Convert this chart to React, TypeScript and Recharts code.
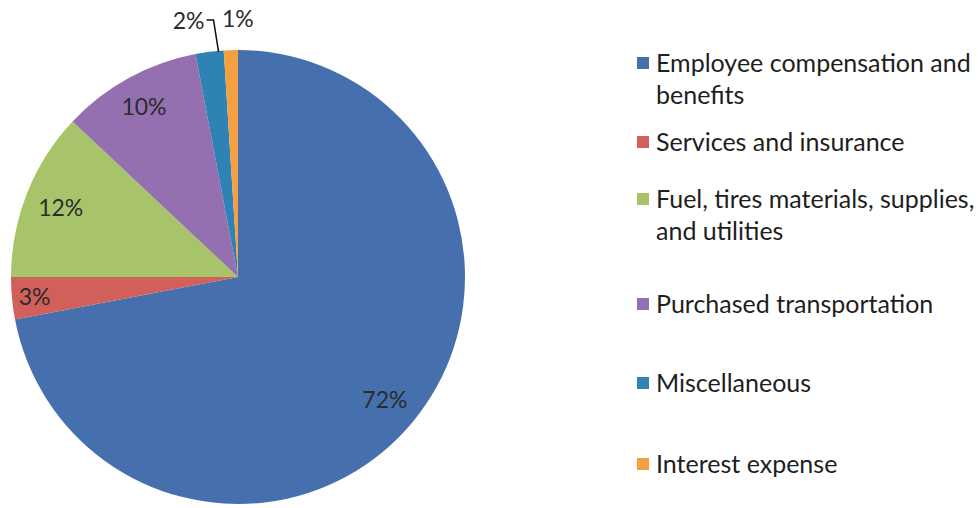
import { Cell, Legend, Pie, PieChart } from "recharts";

const categories = [
  "Employee compensation and benefits",
  "Services and insurance",
  "Fuel, tires materials, supplies, and utilities",
  "Purchased transportation",
  "Miscellaneous",
  "Interest expense",
];
const shares = [72, 3, 12, 10, 2, 1];
const colors = ["#4670ad", "#d1605a", "#a8c46b", "#9470b0", "#2f82b4", "#f5a040"];

// legend spacing above each entry, the original is not evenly spaced
const legendGaps = [46, 15, 25, 41, 47, 49];
// how far out each inside label sits, as a share of the radius
const labelRadius = [0.84, 0.9, 0.84, 0.86];

const data = categories.map((name, i) => ({ name, value: shares[i] }));

const RADIAN = Math.PI / 180;
const FONT = "Lato, 'Open Sans', sans-serif";

function renderLabel(props: any) {
  const { cx, cy, midAngle, outerRadius, value, index } = props;
  const cos = Math.cos(-midAngle * RADIAN);
  const sin = Math.sin(-midAngle * RADIAN);

  if (value > 2) {
    const r = outerRadius * (labelRadius[index] ?? 0.85);
    return (
      <text
        x={cx + r * cos}
        y={cy + r * sin}
        textAnchor="middle"
        dominantBaseline="central"
        fill="#2b2b2b"
        fontSize={23}
        fontFamily={FONT}
      >
        {value}%
      </text>
    );
  }

  // small slices sit outside the pie
  const r = outerRadius + 32;
  const px = cx + r * cos;
  const py = cy + r * sin;

  if (index === 4) {
    const ex = cx + outerRadius * cos + 9;
    const ey = cy + outerRadius * sin;
    return (
      <g>
        <text
          x={px - 1}
          y={py}
          textAnchor="end"
          dominantBaseline="central"
          fill="#2b2b2b"
          fontSize={23}
          fontFamily={FONT}
        >
          {value}%
        </text>
        <polyline
          points={`${px + 1},${py} ${px + 8},${py} ${ex},${ey}`}
          fill="none"
          stroke="#111"
          strokeWidth={1.5}
        />
      </g>
    );
  }

  return (
    <text
      x={px + 8}
      y={py}
      textAnchor="middle"
      dominantBaseline="central"
      fill="#2b2b2b"
      fontSize={23}
      fontFamily={FONT}
    >
      {value}%
    </text>
  );
}

function renderLegend() {
  return (
    <div style={{ fontFamily: FONT, fontSize: 25, color: "#1e1e1e", lineHeight: "32px" }}>
      {categories.map((name, i) => (
        <div
          key={name}
          style={{ display: "flex", alignItems: "flex-start", marginTop: legendGaps[i] }}
        >
          <span
            style={{
              display: "inline-block",
              width: 12,
              height: 12,
              background: colors[i],
              marginTop: 11,
              marginRight: 7,
              flexShrink: 0,
            }}
          />
          <span style={{ width: 335, whiteSpace: "normal" }}>{name}</span>
        </div>
      ))}
    </div>
  );
}

export default function App() {
  return (
    <div style={{ width: 978, height: 508, background: "#fff" }}>
      <style>{`body{margin:0}`}</style>
      <PieChart width={978} height={508} margin={{ top: 0, right: 0, bottom: 0, left: 0 }}>
        <Pie
          data={data}
          dataKey="value"
          nameKey="name"
          cx={238}
          cy={277}
          outerRadius={227}
          startAngle={90}
          endAngle={-270}
          stroke="none"
          label={renderLabel}
          labelLine={false}
          isAnimationActive={false}
        >
          {data.map((entry, i) => (
            <Cell key={entry.name} fill={colors[i]} />
          ))}
        </Pie>
        <Legend
          content={renderLegend}
          wrapperStyle={{ position: "absolute", left: 637, top: 0, width: 341 }}
        />
      </PieChart>
    </div>
  );
}
